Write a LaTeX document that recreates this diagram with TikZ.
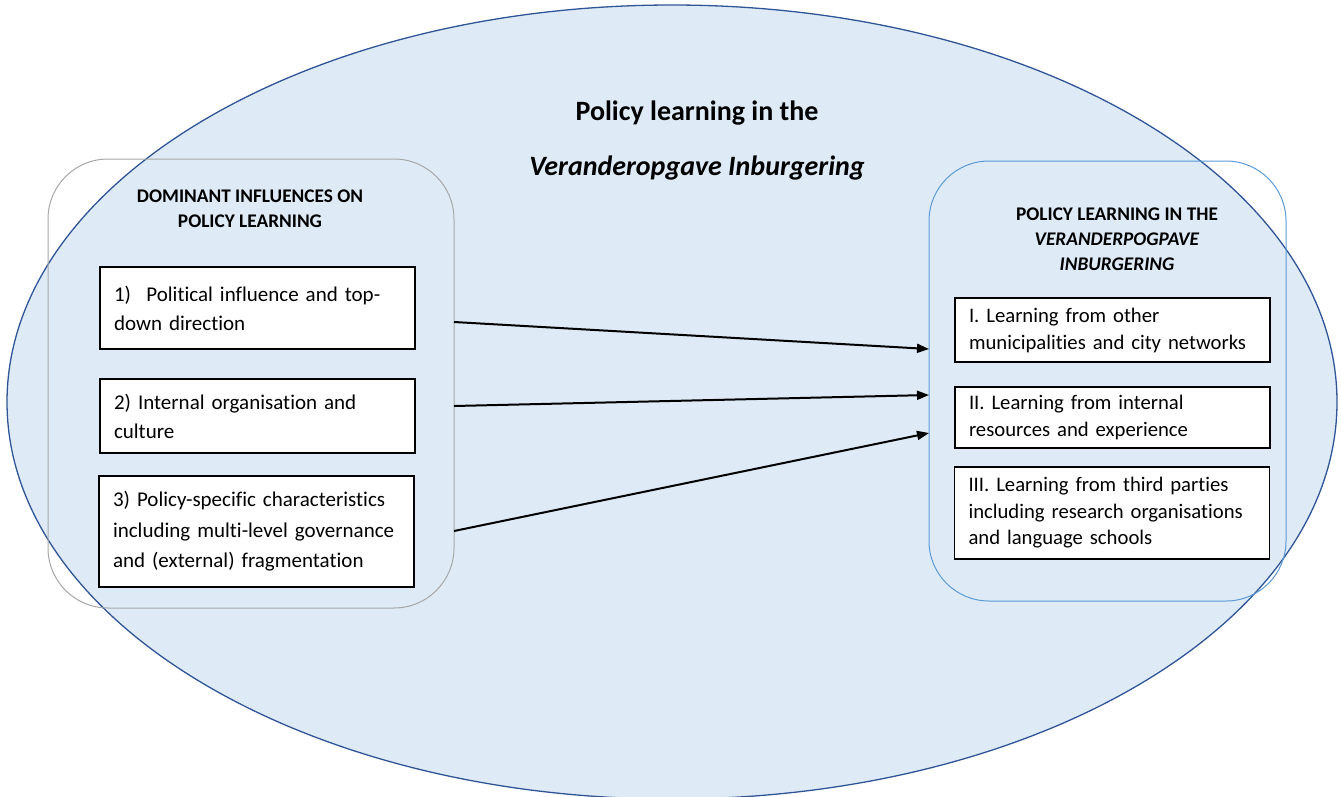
\documentclass[tikz,border=0pt]{standalone}
\usepackage{fontspec}
\setmainfont{Carlito}[Ligatures=NoCommon]
\usetikzlibrary{arrows.meta}
\definecolor{ellfill}{HTML}{DEEBF7}
\definecolor{elldraw}{HTML}{2F5597}
\definecolor{lframe}{HTML}{A6A6A6}
\definecolor{rframe}{HTML}{5B9BD5}

\begin{document}
\begin{tikzpicture}[x=1pt, y=-1pt,
  panel/.style={draw, rounded corners=60pt, line width=1pt, inner sep=0pt},
  item/.style={draw, fill=white, line width=1.3pt, inner xsep=14pt, inner ysep=0pt, text width=287pt, align=left},
  head/.style={font=\fontsize{19.3}{25}\selectfont\bfseries, align=center},
  conn/.style={-{Triangle[length=12pt, width=9pt]}, line width=2pt}]
\useasboundingbox (0,0) rectangle (1341,796);
\draw[fill=ellfill, draw=elldraw, line width=1.3pt] (672,402) ellipse [x radius=665pt, y radius=397pt];
\node[font=\fontsize{28}{30}\selectfont\bfseries] (title1) at (697,113) {Policy learning in the};
\node[font=\fontsize{28}{30}\selectfont\bfseries\itshape] (title2) at (697,168) {Veranderopgave Inburgering};
\node[panel, draw=lframe, minimum width=406pt, minimum height=449pt] (lpanel) at (251,383.5) {};
\node[panel, draw=rframe, minimum width=357pt, minimum height=440pt] (rpanel) at (1107.5,381) {};
\node[head] (lhead) at (250,208.5) {DOMINANT INFLUENCES ON\\POLICY LEARNING};
\node[head] (rhead) at (1117,239.5) {POLICY LEARNING IN THE\\\textit{VERANDERPOGPAVE}\\\textit{INBURGERING}};
\node[item, minimum height=82pt, font=\fontsize{21}{29}\selectfont] (inf1) at (257.5,308) {1)\hspace{0.4em} Political influence and top-\\down direction};
\node[item, minimum height=74pt, font=\fontsize{21}{29}\selectfont] (inf2) at (257.5,416) {2) Internal organisation and\\culture};
\node[item, minimum height=111pt, font=\fontsize{21}{30.5}\selectfont] (inf3) at (256.5,531.5) {3) Policy-specific characteristics\\including multi-level governance\\and (external) fragmentation};
\node[item, minimum height=64pt, font=\fontsize{20.7}{27}\selectfont] (lrn1) at (1112.5,330) {I. Learning from other\\municipalities and city networks};
\node[item, minimum height=61pt, font=\fontsize{20.7}{27}\selectfont] (lrn2) at (1112.5,417.5) {II. Learning from internal\\resources and experience};
\node[item, minimum height=92pt, font=\fontsize{20.7}{26.5}\selectfont] (lrn3) at (1112,513) {III. Learning from third parties\\including research organisations\\and language schools};
\coordinate (s1) at (454,322);
\coordinate (s2) at (454,406);
\coordinate (s3) at (454,531);
\coordinate (t1) at (929,349);
\coordinate (t2) at (929,395);
\coordinate (t3) at (929,433);
\draw[conn] (s1) -- (t1);
\draw[conn] (s2) -- (t2);
\draw[conn] (s3) -- (t3);
\end{tikzpicture}
\end{document}
